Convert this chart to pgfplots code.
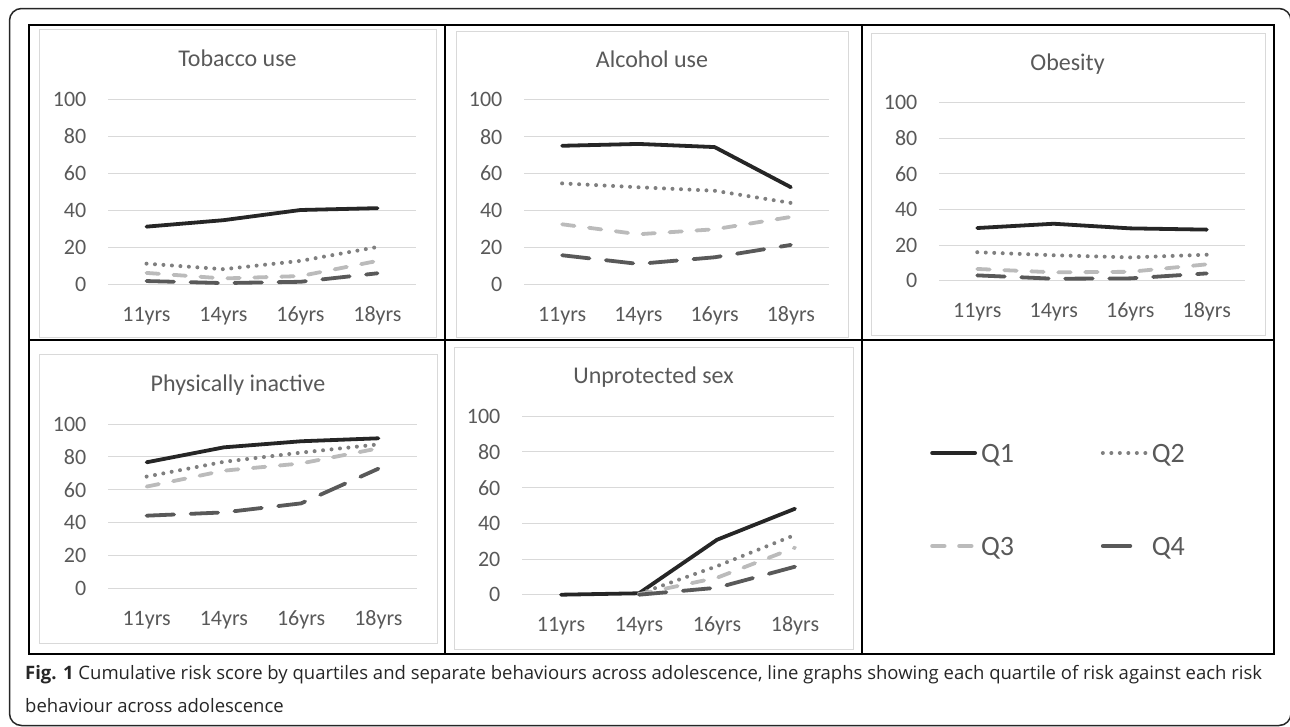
\documentclass[border=0pt]{standalone}
\usepackage{fontspec}
\setmainfont{Carlito}
\newfontfamily\capfont{Open Sans}
\usepackage{pgfplots}
\pgfplotsset{compat=1.18}

\definecolor{textc}{HTML}{595959}
\definecolor{gridc}{HTML}{D9D9D9}
\definecolor{c1}{HTML}{262626}
\definecolor{c2}{HTML}{7F7F7F}
\definecolor{c3}{HTML}{BBBBBB}
\definecolor{c4}{HTML}{595959}
\definecolor{framec}{HTML}{262626}

% one pt per pixel of the 1290x726 reference
\pgfplotsset{
  riskax/.style={
    scale only axis, anchor=south west, clip=false,
    xmin=0.5, xmax=4.5, ymin=0, ymax=100,
    xtick={1,2,3,4}, xticklabels={11yrs,14yrs,16yrs,18yrs},
    ytick={0,20,...,100},
    ymajorgrids, grid style={gridc, line width=1pt},
    axis line style={draw=none}, major tick length=0pt, tick style={draw=none},
    ticklabel style={font=\fontsize{22}{22}\selectfont, text=textc, inner sep=0pt},
    yticklabel style={anchor=east, xshift=-21.5pt},
    xticklabel style={anchor=base, yshift=-37pt},
    /pgf/number format/assume math mode=true,
    every axis title/.style={at={(0.5,1)}, anchor=base, xshift=-24.5pt, yshift=32.5pt,
      font=\fontsize{24}{24}\selectfont, text=textc, inner sep=0pt},
  },
  q1/.style={c1, line width=3.8pt, solid, line join=round, line cap=round},
  q2/.style={c2, line width=4pt, line cap=round, dash pattern=on 0pt off 8.5pt},
  q3/.style={c3, line width=3.8pt, line cap=round, dash pattern=on 12.5pt off 14.5pt},
  q4/.style={c4, line width=3.8pt, line cap=round, dash pattern=on 27.5pt off 16.5pt},
}

\begin{document}
\begin{tikzpicture}
\useasboundingbox (0pt,0pt) rectangle (1290pt,-726pt);

% outer frame and table grid
\draw[framec, line width=1.5pt, rounded corners=12pt] (9.5pt,-8.5pt) rectangle (1291pt,-725.5pt);
\draw[line width=1.2pt] (29pt,-25pt) rectangle (1274pt,-654pt);
\draw[line width=1.2pt] (445pt,-25pt) -- (445pt,-654pt) (862pt,-25pt) -- (862pt,-654pt)
  (29pt,-340pt) -- (1274pt,-340pt);

% chart borders
\draw[gridc, line width=1pt] (39pt,-29pt) rectangle (436pt,-337pt);
\draw[gridc, line width=1pt] (456pt,-31pt) rectangle (848pt,-337pt);
\draw[gridc, line width=1pt] (871pt,-33pt) rectangle (1265pt,-335pt);
\draw[gridc, line width=1pt] (39pt,-354pt) rectangle (437pt,-643pt);
\draw[gridc, line width=1pt] (454pt,-347pt) rectangle (853pt,-649pt);

% Tobacco use
\begin{axis}[riskax, at={(108pt,-284pt)}, width=308pt, height=185pt, title={Tobacco use}]
\addplot[q1] coordinates {(1,31) (2,34.5) (3,40) (4,41)};
\addplot[q2] coordinates {(1,11) (2,8) (3,12.5) (4,20)};
\addplot[q3] coordinates {(1,6) (2,3) (3,4.3) (4,12.5)};
\addplot[q4] coordinates {(1,1.6) (2,0.5) (3,1.2) (4,5.8)};
\end{axis}

% Alcohol use
\begin{axis}[riskax, at={(524pt,-284pt)}, width=305pt, height=184.3pt, title={Alcohol use}]
\addplot[q1] coordinates {(1,75) (2,76) (3,74.3) (4,52.5)};
\addplot[q2] coordinates {(1,54.6) (2,52.5) (3,50.6) (4,44)};
\addplot[q3] coordinates {(1,32.4) (2,27) (3,29.7) (4,36.4)};
\addplot[q4] coordinates {(1,15.6) (2,10.9) (3,14.5) (4,21.2)};
\end{axis}

% Obesity
\begin{axis}[riskax, at={(939pt,-280.7pt)}, width=306pt, height=178pt, title={Obesity}]
\addplot[q1] coordinates {(1,29.6) (2,32) (3,29.4) (4,28.7)};
\addplot[q2] coordinates {(1,16) (2,14.3) (3,13.1) (4,14.6)};
\addplot[q3] coordinates {(1,6.6) (2,4.7) (3,5) (4,9.2)};
\addplot[q4] coordinates {(1,3) (2,1.1) (3,1.3) (4,4.1)};
\end{axis}

% Physically inactive
\begin{axis}[riskax, at={(108pt,-588.3pt)}, width=309pt, height=164.3pt, title={Physically inactive}]
\addplot[q1] coordinates {(1,76.7) (2,85.8) (3,89.5) (4,91.3)};
\addplot[q2] coordinates {(1,68) (2,77) (3,82.6) (4,87.6)};
\addplot[q3] coordinates {(1,61.9) (2,71.6) (3,76) (4,85.2)};
\addplot[q4] coordinates {(1,44.2) (2,46.2) (3,51.7) (4,72.8)};
\end{axis}

% Unprotected sex, carries the legend placed in the empty cell
\begin{axis}[riskax, at={(522pt,-594.7pt)}, width=312pt, height=178.4pt, title={Unprotected sex},
  legend columns=2, legend cell align=left,
  legend image code/.code={\draw[#1] (0pt,0pt) -- (43pt,0pt);},
  legend style={draw=none, fill=none, inner sep=0pt, at={(1.3077,0.5336)}, anchor=west,
    row sep=68.4pt, column sep=4pt,
    nodes={inner sep=0pt, text height=22pt, text depth=2.6pt, font=\fontsize{28}{28}\selectfont, text=textc},
    /tikz/every even column/.append style={column sep=86.8pt}}]
\addplot[q1] coordinates {(1,0) (2,0.8) (3,30.8) (4,48.2)};
\addplot[q2] coordinates {(2,0.5) (3,16) (4,33.5)};
\addplot[q3] coordinates {(2,0.3) (3,9.5) (4,26.4)};
\addplot[q4] coordinates {(2,0) (3,3.9) (4,15.7)};
\legend{Q1,Q2,Q3,Q4}
\end{axis}

% caption
\node[anchor=base west, inner sep=0pt, font=\capfont\fontsize{18.5}{18.5}\selectfont, text=black!85]
  at (25pt,-679.3pt) {\textbf{Fig. 1} Cumulative risk score by quartiles and separate behaviours across adolescence, line graphs showing each quartile of risk against each risk};
\node[anchor=base west, inner sep=0pt, font=\capfont\fontsize{18.5}{18.5}\selectfont, text=black!85]
  at (25pt,-712.7pt) {behaviour across adolescence};
\end{tikzpicture}
\end{document}
